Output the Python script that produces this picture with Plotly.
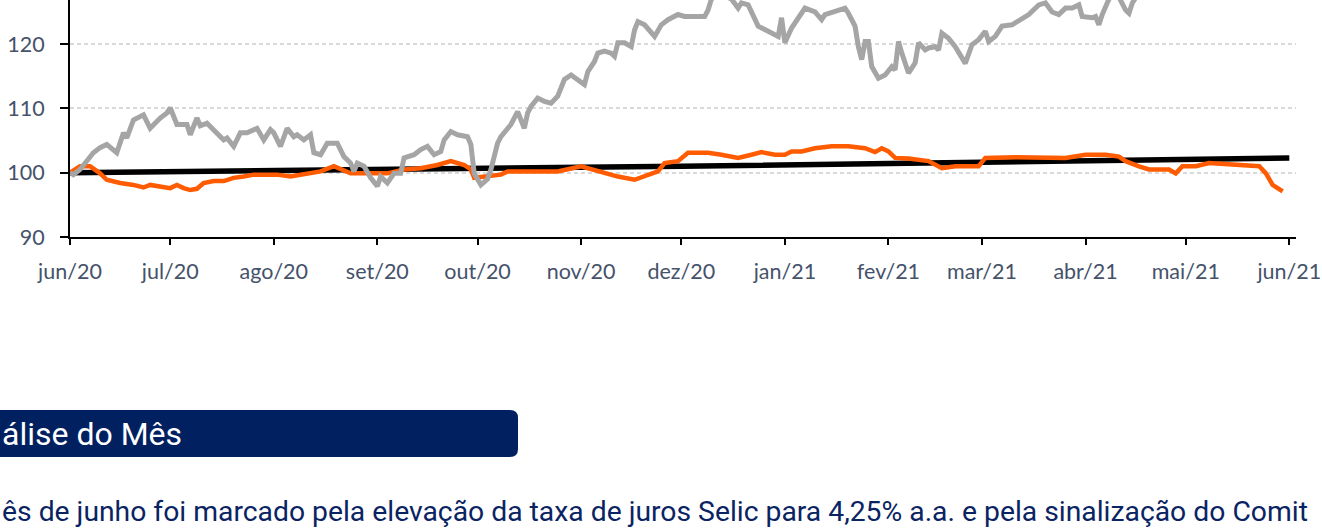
import plotly.graph_objects as go

# ---- data ----
gray_dates = ["2020-06-01","2020-06-02","2020-06-04","2020-06-08","2020-06-10","2020-06-12","2020-06-15","2020-06-17","2020-06-18",
 "2020-06-20","2020-06-23","2020-06-25","2020-06-28","2020-06-30","2020-07-01","2020-07-03","2020-07-06","2020-07-07","2020-07-09",
 "2020-07-10","2020-07-12","2020-07-15","2020-07-17","2020-07-18","2020-07-20","2020-07-22","2020-07-24","2020-07-27","2020-07-29",
 "2020-07-31","2020-08-01","2020-08-03","2020-08-05","2020-08-07","2020-08-08","2020-08-10","2020-08-12","2020-08-13","2020-08-15",
 "2020-08-17","2020-08-20","2020-08-22","2020-08-24","2020-08-25","2020-08-26","2020-08-28","2020-08-30","2020-09-01","2020-09-02",
 "2020-09-04","2020-09-06","2020-09-08","2020-09-09","2020-09-12","2020-09-14","2020-09-16","2020-09-18","2020-09-20","2020-09-21",
 "2020-09-23","2020-09-25","2020-09-28","2020-09-29","2020-09-30","2020-10-02","2020-10-04","2020-10-05","2020-10-07","2020-10-08",
 "2020-10-11","2020-10-13","2020-10-15","2020-10-16","2020-10-17","2020-10-19","2020-10-21","2020-10-23","2020-10-25","2020-10-27",
 "2020-10-29","2020-10-31","2020-11-02","2020-11-03","2020-11-05","2020-11-06","2020-11-08","2020-11-10","2020-11-11","2020-11-12",
 "2020-11-14","2020-11-16","2020-11-17","2020-11-18","2020-11-20","2020-11-23","2020-11-25","2020-11-27","2020-11-30","2020-12-02",
 "2020-12-06","2020-12-08","2020-12-09","2020-12-10","2020-12-12","2020-12-14","2020-12-16","2020-12-18","2020-12-19","2020-12-21",
 "2020-12-24","2020-12-27","2020-12-30","2020-12-31","2021-01-01","2021-01-03","2021-01-06","2021-01-07","2021-01-10","2021-01-12",
 "2021-01-13","2021-01-16","2021-01-19","2021-01-20","2021-01-22","2021-01-23","2021-01-24","2021-01-25","2021-01-26","2021-01-27",
 "2021-01-29","2021-01-31","2021-02-02","2021-02-03","2021-02-04","2021-02-05","2021-02-07","2021-02-09","2021-02-10","2021-02-12",
 "2021-02-13","2021-02-15","2021-02-16","2021-02-17","2021-02-18","2021-02-19","2021-02-21","2021-02-24","2021-02-26","2021-02-28",
 "2021-03-02","2021-03-03","2021-03-05","2021-03-07","2021-03-10","2021-03-11","2021-03-13","2021-03-15","2021-03-18","2021-03-20",
 "2021-03-22","2021-03-24","2021-03-26","2021-03-28","2021-03-30","2021-03-31","2021-04-03","2021-04-04","2021-04-05","2021-04-06",
 "2021-04-08","2021-04-09","2021-04-11","2021-04-13","2021-04-14","2021-04-15","2021-04-16","2021-04-20","2021-04-26","2021-05-03",
 "2021-05-10","2021-05-17","2021-05-24","2021-05-31"]
gray_values = [100.0,99.7,100.5,103.1,103.9,104.4,103.1,106.2,105.4,
 108.2,109.0,106.9,108.5,109.3,110.1,107.5,107.5,105.9,108.5,
 107.3,107.7,106.2,105.1,105.4,104.1,106.2,106.2,106.9,105.1,
 106.7,106.2,104.1,106.9,105.6,105.9,105.1,105.9,103.1,102.8,
 104.6,104.6,102.5,101.5,100.2,101.5,101.0,99.2,97.9,99.4,
 98.4,99.9,99.9,102.3,102.8,103.6,104.1,102.8,103.3,105.1,
 106.4,105.9,105.6,104.4,99.9,98.1,99.0,100.5,104.6,105.6,
 107.5,109.5,106.9,109.3,110.3,111.6,111.1,110.8,111.9,114.5,
 115.2,114.5,113.7,115.7,117.3,118.6,118.9,118.6,118.1,120.2,
 120.2,119.6,122.2,123.5,123.0,121.2,123.0,123.8,124.6,124.3,
 124.3,124.3,125.3,127.0,128.0,127.5,127.0,125.6,126.4,126.1,
 122.8,122.0,121.2,124.1,120.2,122.5,125.0,125.6,125.0,123.8,
 124.6,125.0,125.6,124.8,122.8,119.6,117.6,120.4,120.4,116.5,
 114.7,115.2,116.5,116.0,120.4,118.6,115.5,117.1,120.2,119.1,
 119.4,119.6,119.1,121.7,121.2,120.9,119.6,117.0,119.9,120.7,
 122.0,120.4,121.2,122.8,123.0,123.3,123.8,124.6,126.1,126.4,
 125.0,124.6,125.6,125.6,126.1,124.3,124.1,124.3,123.0,124.6,
 127.0,127.5,127.3,125.3,124.8,126.4,127.2,128.0,128.5,129.0,
 130.0,130.5,129.5,130.0]

orange_dates = ["2020-06-01","2020-06-04","2020-06-07","2020-06-10","2020-06-12","2020-06-16","2020-06-20","2020-06-23","2020-06-25",
 "2020-06-28","2020-07-01","2020-07-03","2020-07-05","2020-07-07","2020-07-09","2020-07-11","2020-07-14","2020-07-17","2020-07-20",
 "2020-07-23","2020-07-26","2020-07-30","2020-08-02","2020-08-06","2020-08-10","2020-08-15","2020-08-19","2020-08-24","2020-08-30",
 "2020-09-04","2020-09-09","2020-09-14","2020-09-19","2020-09-23","2020-09-27","2020-09-29","2020-09-30","2020-10-04","2020-10-08",
 "2020-10-10","2020-10-17","2020-10-25","2020-11-01","2020-11-06","2020-11-12","2020-11-17","2020-11-20","2020-11-24","2020-11-26",
 "2020-11-30","2020-12-03","2020-12-09","2020-12-13","2020-12-18","2020-12-22","2020-12-25","2020-12-29","2021-01-01","2021-01-03",
 "2021-01-06","2021-01-10","2021-01-15","2021-01-20","2021-01-25","2021-01-28","2021-01-30","2021-02-01","2021-02-03","2021-02-07",
 "2021-02-13","2021-02-17","2021-02-21","2021-02-28","2021-03-02","2021-03-11","2021-03-18","2021-03-26","2021-04-01","2021-04-07",
 "2021-04-11","2021-04-13","2021-04-17","2021-04-20","2021-04-26","2021-04-28","2021-04-30","2021-05-04","2021-05-08","2021-05-15",
 "2021-05-23","2021-05-25","2021-05-27","2021-05-30"]
orange_values = [100.0,101.0,101.0,99.9,98.9,98.4,98.1,97.7,98.1,
 97.8,97.6,98.1,97.6,97.3,97.5,98.4,98.7,98.7,99.2,
 99.4,99.7,99.7,99.7,99.4,99.7,100.2,101.0,99.9,99.9,
 99.9,100.5,100.7,101.2,101.8,101.2,100.5,99.2,99.4,99.7,
 100.2,100.2,100.2,101.0,100.2,99.4,98.9,99.4,100.2,101.5,
 101.8,103.1,103.1,102.8,102.3,102.8,103.2,102.8,102.8,103.3,
 103.3,103.8,104.1,104.1,103.8,103.2,103.8,103.3,102.3,102.2,
 101.8,100.7,101.0,101.0,102.3,102.4,102.3,102.3,102.8,102.8,
 102.5,101.8,101.0,100.5,100.5,99.9,101.0,101.0,101.5,101.2,
 101.0,99.9,98.1,97.1]

black_dates = ["2020-06-01","2020-07-01","2020-08-01","2020-09-01","2020-10-01","2020-11-01","2020-12-01",
 "2021-01-01","2021-02-01","2021-03-01","2021-04-01","2021-05-01","2021-06-01"]
black_values = [100.0,100.2,100.4,100.55,100.7,100.85,101.0,101.2,101.35,101.55,101.75,102.0,102.3]

month_ticks = ["2020-06-01","2020-07-01","2020-08-01","2020-09-01","2020-10-01","2020-11-01","2020-12-01",
 "2021-01-01","2021-02-01","2021-03-01","2021-04-01","2021-05-01","2021-06-01"]
month_labels = ["jun/20","jul/20","ago/20","set/20","out/20","nov/20","dez/20",
 "jan/21","fev/21","mar/21","abr/21","mai/21","jun/21"]
y_ticks = [90, 100, 110, 120, 130]

header_text = "álise do Mês"
body_text = "ês de junho foi marcado pela elevação da taxa de juros Selic para 4,25% a.a. e pela sinalização do Comit"

# ---- figure ----
fig = go.Figure()
fig.add_trace(go.Scatter(x=black_dates, y=black_values, mode="lines",
                         line=dict(color="#000000", width=5.5), hoverinfo="skip"))
fig.add_trace(go.Scatter(x=orange_dates, y=orange_values, mode="lines",
                         line=dict(color="#FF5B00", width=4.5), hoverinfo="skip"))
fig.add_trace(go.Scatter(x=gray_dates, y=gray_values, mode="lines",
                         line=dict(color="#A5A5A5", width=5), hoverinfo="skip"))

W, H = 1322, 531
ML, MR, MT, MB = 70, 26, 0, 294
pw, ph = W - ML - MR, H - MT - MB

def px(x):  # pixel x -> paper
    return (x - ML) / pw

def py(y):  # pixel y -> paper
    return (H - MB - y) / ph

tickfont = dict(family="Lato, Open Sans, sans-serif", size=21.5, color="#45526A")

fig.update_layout(
    width=W, height=H, margin=dict(l=ML, r=MR, t=MT, b=MB, pad=0),
    paper_bgcolor="white", plot_bgcolor="white", showlegend=False,
    xaxis=dict(type="date", range=["2020-06-01", "2021-06-03"],
               tickvals=month_ticks, ticktext=month_labels, ticks="outside",
               ticklen=6, tickwidth=2, tickcolor="#000000", showline=True,
               linecolor="#000000", linewidth=2, showgrid=False, zeroline=False,
               tickfont=tickfont, ticklabelstandoff=8),
    yaxis=dict(range=[90, 126.86], tickvals=y_ticks, ticks="outside", ticklen=8,
               tickwidth=2, tickcolor="#000000", showline=True, linecolor="#000000",
               linewidth=2, showgrid=True, gridcolor="#D9D9D9", gridwidth=1.5,
               griddash="4px,3px", zeroline=False, tickfont=tickfont,
               ticklabelstandoff=11),
)

# dark blue header box with rounded right corners
x0, x1 = px(-2), px(518)
y0, y1 = py(457), py(410)
rx, ry = 8 / pw, 8 / ph
path = (f"M {x0},{y1} L {x1-rx},{y1} Q {x1},{y1} {x1},{y1-ry} "
        f"L {x1},{y0+ry} Q {x1},{y0} {x1-rx},{y0} L {x0},{y0} Z")
fig.add_shape(type="path", path=path, xref="paper", yref="paper",
              fillcolor="#002060", line=dict(width=0), layer="above")

fig.add_annotation(text=header_text, xref="paper", yref="paper",
                   x=px(0), y=py(434), xanchor="left", yanchor="middle",
                   showarrow=False, font=dict(family="Roboto", size=32, color="#FFFFFF"))
fig.add_annotation(text=body_text, xref="paper", yref="paper", x=px(0), y=py(511),
                   xanchor="left", yanchor="middle", showarrow=False,
                   font=dict(family="Roboto", size=28.3, color="#0A2463"))

fig.write_html("out.html", config={"displayModeBar": False},
               post_script="document.body.style.margin='0px';")
